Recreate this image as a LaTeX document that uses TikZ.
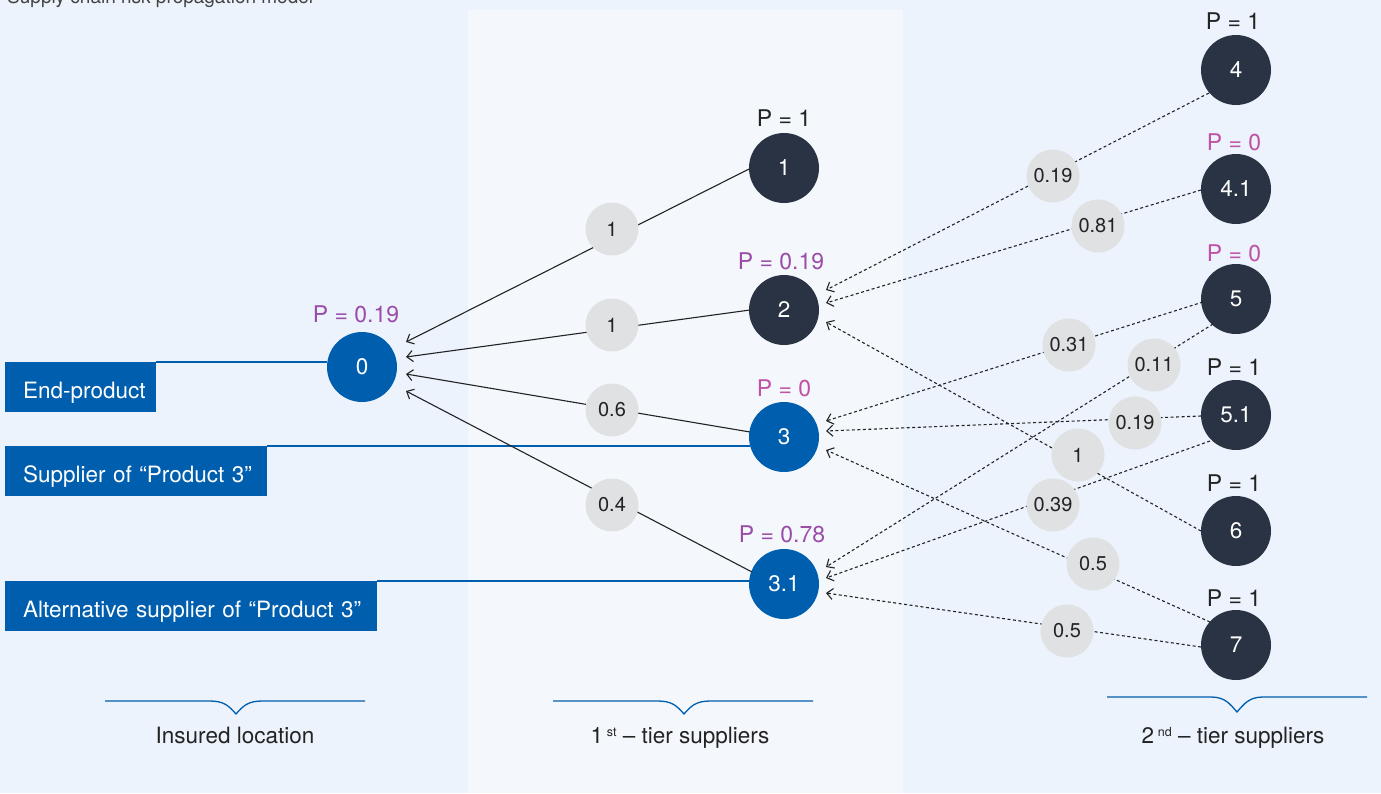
\documentclass[tikz,border=0pt]{standalone}
\usepackage{fontspec}
\setmainfont{TeX Gyre Heros}
\usetikzlibrary{arrows.meta}

\definecolor{pagebg}{HTML}{ECF3FC}
\definecolor{panelbg}{HTML}{F4F8FC}
\definecolor{navy}{HTML}{2A3343}
\definecolor{azure}{HTML}{005EAE}
\definecolor{chip}{HTML}{E0E1E3}
\definecolor{violetp}{HTML}{9A4DA8}
\definecolor{pinkp}{HTML}{C052A6}
\definecolor{ink}{HTML}{232323}

\newcommand{\pxsize}[1]{\fontsize{#1}{#1}\selectfont}

\tikzset{
  firm/.style={circle, minimum size=70pt, inner sep=0pt, text=white, font=\pxsize{22.5}},
  darkfirm/.style={firm, fill=navy},
  bluefirm/.style={firm, fill=azure},
  weight/.style={circle, fill=chip, minimum size=53pt, inner sep=0pt, text=ink, font=\pxsize{20}},
  plabel/.style={anchor=base, font=\pxsize{23}, inner sep=0pt, text=ink},
  tag/.style={fill=azure, text=white, anchor=north west, minimum height=50pt,
              text height=22pt, text depth=0pt,
              inner xsep=18pt, inner ysep=0pt, align=left, font=\pxsize{22.5}},
  link/.style={draw=ink, line width=1.1pt,
               -{Straight Barb[length=6pt,width=11pt,line width=1.1pt]}},
  sublink/.style={link, dash pattern=on 3pt off 2.5pt},
  leader/.style={draw=azure, line width=1.3pt},
  brace/.style={draw=azure, line width=1.3pt},
  caption/.style={anchor=base, font=\pxsize{22.5}, inner sep=0pt, text=ink},
}

\begin{document}
\begin{tikzpicture}[x=1pt, y=-1pt]
  \useasboundingbox (0,0) rectangle (1381,793);

  % backdrop and the first-tier panel
  \fill[pagebg] (0,0) rectangle (1381,793);
  \fill[panelbg] (468,10) rectangle (903,793);

  % heading
  \node[anchor=base west, font=\pxsize{19}, inner sep=0pt, text=ink!85] (title) at (7,3)
    {Supply chain risk propagation model};

  % firms
  \node[bluefirm] (n0)  at (362,367) {0};
  \node[darkfirm] (n1)  at (784,168) {1};
  \node[darkfirm] (n2)  at (784,310) {2};
  \node[bluefirm] (n3)  at (784,437) {3};
  \node[bluefirm] (n31) at (784,584) {3.1};
  \node[darkfirm] (n4)  at (1236,70)  {4};
  \node[darkfirm] (n41) at (1236,189) {4.1};
  \node[darkfirm] (n5)  at (1236,299) {5};
  \node[darkfirm] (n51) at (1236,415) {5.1};
  \node[darkfirm] (n6)  at (1236,531) {6};
  \node[darkfirm] (n7)  at (1236,645) {7};

  % probabilities
  \node[plabel, text=violetp] (p0)  at (356,322) {P = 0.19};
  \node[plabel]               (p1)  at (784,126) {P = 1};
  \node[plabel, text=violetp] (p2)  at (781,269) {P = 0.19};
  \node[plabel, text=pinkp]   (p3)  at (784,396) {P = 0};
  \node[plabel, text=violetp] (p31) at (782,542) {P = 0.78};
  \node[plabel]               (p4)  at (1233,29)  {P = 1};
  \node[plabel, text=pinkp]   (p41) at (1234,150) {P = 0};
  \node[plabel, text=pinkp]   (p5)  at (1234,261) {P = 0};
  \node[plabel]               (p51) at (1234,375) {P = 1};
  \node[plabel]               (p6)  at (1234,491) {P = 1};
  \node[plabel]               (p7)  at (1234,606) {P = 1};

  % role tags with their leader lines
  \node[tag, text width=115pt] (tagA) at (5,362) {\mbox{End-product}};
  \node[tag, text width=226pt] (tagB) at (5,446) {\mbox{Supplier of “Product 3”}};
  \node[tag, text width=336pt] (tagC) at (5,581) {\mbox{Alternative supplier of “Product 3”}};
  \draw[leader] (tagA.north east) -- (tagA.north east -| n0.west);
  \draw[leader] (tagB.north east) -- ([xshift=1pt]tagB.north east -| n3.west);
  \draw[leader] (tagC.north east) -- ([xshift=1pt]tagC.north east -| n31.west);

  % first tier to end-product
  \draw[link] ([shift={(-35,1)}]n1.center)   -- ([shift={(44,-25)}]n0.center);
  \draw[link] ([shift={(-34,0)}]n2.center)   -- ([shift={(44,-10)}]n0.center);
  \draw[link] ([shift={(-34,-5)}]n3.center)  -- ([shift={(44,7)}]n0.center);
  \draw[link] ([shift={(-32,-12)}]n31.center) -- ([shift={(44,24)}]n0.center);

  % second tier to first tier
  \draw[sublink] ([shift={(-27,23)}]n4.center)  -- ([shift={(42,-20)}]n2.center);
  \draw[sublink] ([shift={(-35,1)}]n41.center)  -- ([shift={(42,-7)}]n2.center);
  \draw[sublink] ([shift={(-35,0)}]n6.center)   -- ([shift={(42,12)}]n2.center);
  \draw[sublink] ([shift={(-33,3)}]n5.center)   -- ([shift={(42,-16)}]n3.center);
  \draw[sublink] ([shift={(-35,1)}]n51.center)  -- ([shift={(42,-6)}]n3.center);
  \draw[sublink] ([shift={(-26,-23)}]n7.center) -- ([shift={(42,13)}]n3.center);
  \draw[sublink] ([shift={(-23,25)}]n5.center)  -- ([shift={(42,-17)}]n31.center);
  \draw[sublink] ([shift={(-26,26)}]n51.center) -- ([shift={(42,-6)}]n31.center);
  \draw[sublink] ([shift={(-35,2)}]n7.center)   -- ([shift={(42,9)}]n31.center);

  % link weights
  \node[weight] (w10)  at (612,229) {1};
  \node[weight] (w20)  at (612,325) {1};
  \node[weight] (w30)  at (612,410) {0.6};
  \node[weight] (w310) at (612,505) {0.4};
  \node[weight] (w42)  at (1053,176) {0.19};
  \node[weight] (w412) at (1098,226) {0.81};
  \node[weight] (w53)  at (1069,345) {0.31};
  \node[weight] (w531) at (1154,365) {0.11};
  \node[weight] (w513) at (1135,423) {0.19};
  \node[weight] (w62)  at (1078,455) {1};
  \node[weight] (w5131) at (1053,505) {0.39};
  \node[weight] (w73)  at (1093,564) {0.5};
  \node[weight] (w731) at (1067,631) {0.5};

  % group braces and captions
  \draw[brace] (105,701) -- (210,701) .. controls (224,701) and (229,706) .. (236,714)
               .. controls (243,706) and (248,701) .. (262,701) -- (365,701);
  \draw[brace] (553,701) -- (658,701) .. controls (672,701) and (677,706) .. (684,714)
               .. controls (691,706) and (696,701) .. (710,701) -- (813,701);
  \draw[brace] (1107,697) -- (1211,697) .. controls (1225,697) and (1230,704) .. (1237,712)
               .. controls (1244,704) and (1249,697) .. (1263,697) -- (1367,697);

  \node[caption] (capA) at (235,743) {Insured location};
  \node[caption] (capB) at (680,743)
    {1\,\raisebox{7pt}{\pxsize{12.5}st} – tier suppliers};
  \node[caption] (capC) at (1233,743)
    {2\,\raisebox{7pt}{\pxsize{12.5}nd} – tier suppliers};
\end{tikzpicture}
\end{document}
